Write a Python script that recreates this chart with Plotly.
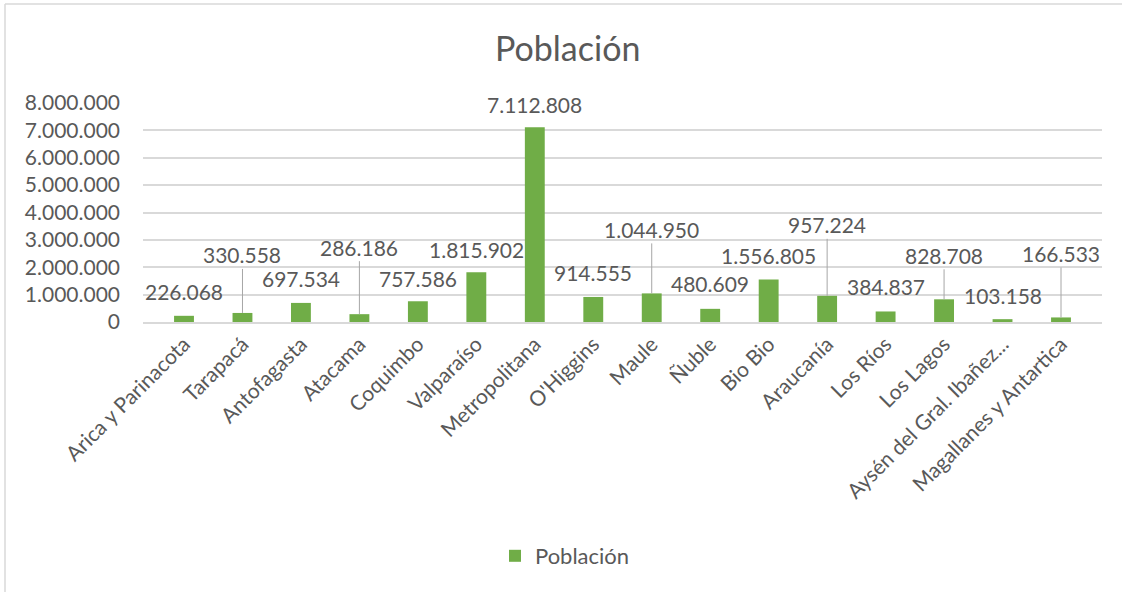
import plotly.graph_objects as go

categories = ["Arica y Parinacota", "Tarapacá", "Antofagasta", "Atacama", "Coquimbo",
              "Valparaíso", "Metropolitana", "O'Higgins", "Maule", "Ñuble", "Bio Bio",
              "Araucanía", "Los Ríos", "Los Lagos", "Aysén del Gral. Ibañez...",
              "Magallanes y Antartica"]
poblacion = [226068, 330558, 697534, 286186, 757586, 1815902, 7112808, 914555,
             1044950, 480609, 1556805, 957224, 384837, 828708, 103158, 166533]
y_ticks = [0, 1000000, 2000000, 3000000, 4000000, 5000000, 6000000, 7000000, 8000000]

# label placement style (pixel offset above bar top; leader line if True)
label_offset_px = [24, 58, 24, 67, 23, 23, 23, 24, 64, 25, 24, 71, 25, 44, 24, 64]
label_leader = [False, True, False, True, False, False, False, False,
                True, False, False, True, False, True, False, True]

GREEN = "#70AD47"
TXT = "#595959"
FONT = "Lato"

W, H = 1122, 592
L, R, T, B = 143, 1102, 103, 322

fig = go.Figure()
fig.add_trace(go.Bar(x=categories, y=poblacion, name="Población",
                     marker=dict(color=GREEN, line=dict(width=0)),
                     hoverinfo="x+y"))

def fmt(v):
    return f"{v:,}".replace(",", ".")

annotations = []
for c, v, off, lead in zip(categories, poblacion, label_offset_px, label_leader):
    if lead:
        annotations.append(dict(x=c, y=v, xref="x", yref="y", text=fmt(v),
                                showarrow=True, arrowhead=0, arrowwidth=1,
                                arrowcolor="#A6A6A6", ax=0, ay=-off, standoff=0,
                                font=dict(family=FONT, size=21, color=TXT)))
    else:
        annotations.append(dict(x=c, y=v, xref="x", yref="y", text=fmt(v),
                                showarrow=False, yshift=off, yanchor="middle",
                                font=dict(family=FONT, size=21, color=TXT)))

annotations.append(dict(text="Población", xref="paper", yref="paper",
                        x=(567.5 - L) / (R - L), y=(B - 47) / (B - T),
                        xanchor="center", yanchor="middle", showarrow=False,
                        font=dict(family=FONT, size=34, color=TXT)))

def px_x(p):
    return (p - L) / (R - L)

def px_y(p):
    return (B - p) / (B - T)

fig.update_layout(
    width=W, height=H,
    margin=dict(l=L, r=W - R, t=T, b=H - B, pad=0),
    paper_bgcolor="white", plot_bgcolor="white",
    separators=",.",
    bargap=0.66,
    showlegend=True,
    legend=dict(orientation="h", x=px_x(565), xanchor="center",
                y=px_y(556), yanchor="middle",
                font=dict(family=FONT, size=22, color=TXT),
                itemwidth=30),
    annotations=annotations,
    xaxis=dict(tickangle=-45, tickfont=dict(family=FONT, size=21, color=TXT),
               showgrid=False, showline=True, linecolor="#D9D9D9", linewidth=1.5,
               ticks="", fixedrange=True),
    yaxis=dict(range=[0, 8000000], tickvals=y_ticks, tickformat=",d",
               tickfont=dict(family=FONT, size=21, color=TXT),
               showgrid=True, gridcolor="#D9D9D9", gridwidth=1.5,
               zeroline=False, showline=False, ticks="", ticklabelstandoff=22,
               fixedrange=True),
    shapes=[
        dict(type="line", xref="paper", yref="paper",
             x0=px_x(5), x1=px_x(5), y0=px_y(600), y1=px_y(4),
             line=dict(color="#D9D9D9", width=1.5), layer="below"),
        dict(type="line", xref="paper", yref="paper",
             x0=px_x(5), x1=px_x(1125), y0=px_y(4), y1=px_y(4),
             line=dict(color="#D9D9D9", width=1.5), layer="below"),
    ],
)

fig.write_html("out.html", config={"displayModeBar": False},
               post_script="document.body.style.margin='0';document.body.style.overflow='hidden';")
